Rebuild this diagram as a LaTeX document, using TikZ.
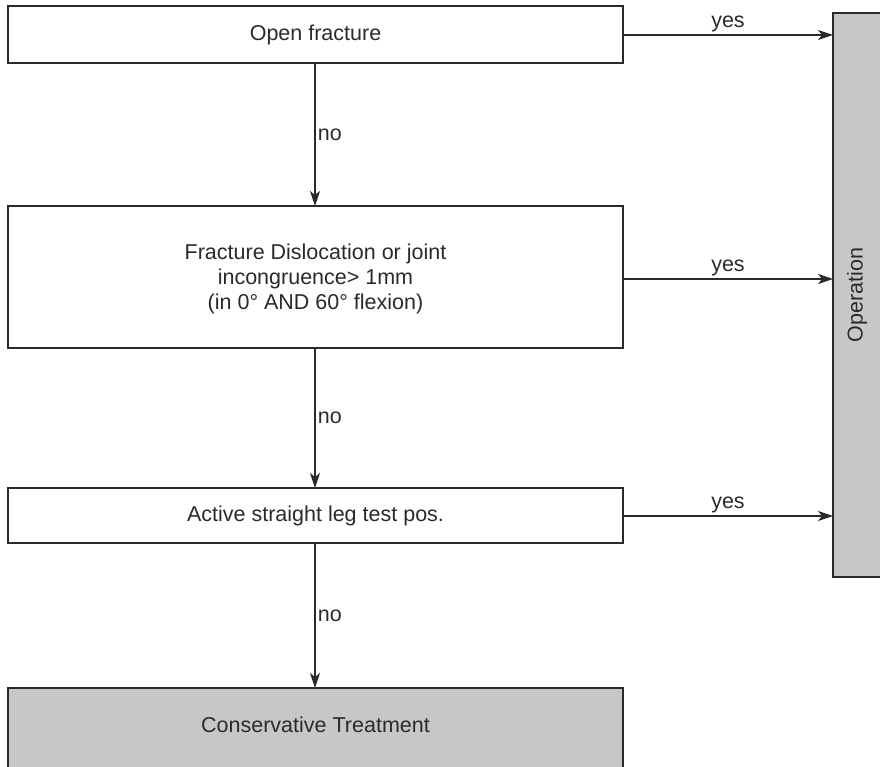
\documentclass[tikz,border=0pt]{standalone}
\usepackage{fontspec}
\setmainfont{Liberation Sans}
\usetikzlibrary{arrows.meta}
\definecolor{boxgray}{HTML}{C6C7C9}
\definecolor{ink}{HTML}{2A2A2A}
\begin{document}
\begin{tikzpicture}[x=1pt,y=-1pt,
  box/.style={draw=ink,line width=1.6pt,fill=white},
  graybox/.style={draw=ink,line width=1.6pt,fill=boxgray},
  txt/.style={font=\fontsize{21.5}{25}\selectfont,text=ink,align=center},
  conn/.style={draw=ink,line width=1.3pt,-{Stealth[length=15pt,width=10pt,inset=4pt]}},
  lab/.style={font=\fontsize{21.5}{25}\selectfont,text=ink}]
\useasboundingbox (0,0) rectangle (880,767);
\clip (0,0) rectangle (880,767);
% boxes
\draw[box] (8,6) rectangle (623,63);
\draw[box] (8,206) rectangle (623,348);
\draw[box] (8,488) rectangle (623,543);
\draw[graybox] (8,688) rectangle (623,790);
\draw[graybox] (833,13) rectangle (900,577);
% texts
\node[txt] (b1) at (315.5,34.5) {Open fracture};
\node[txt] (b2) at (315.5,279) {Fracture Dislocation or joint\\incongruence> 1mm\\(in 0° AND 60° flexion)};
\node[txt] (b3) at (315.5,515.5) {Active straight leg test pos.};
\node[txt] (b4) at (315.5,725) {Conservative Treatment};
\node[txt,rotate=90] (op) at (857,295) {Operation};
\coordinate (b1s) at (315,63);
\coordinate (b2n) at (315,206);
\coordinate (b2s) at (315,348);
\coordinate (b3n) at (315,488);
\coordinate (b3s) at (315,543);
\coordinate (b4n) at (315,688);
\coordinate (b1e) at (623,35);
\coordinate (op1) at (833,35);
\coordinate (b2e) at (623,279);
\coordinate (op2) at (833,279);
\coordinate (b3e) at (623,516);
\coordinate (op3) at (833,516);
% connectors
\draw[conn] (b1s) -- node[lab,right,xshift=-1pt] {no} (b2n);
\draw[conn] (b2s) -- node[lab,right,xshift=-1pt] {no} (b3n);
\draw[conn] (b3s) -- node[lab,right,xshift=-1pt] {no} (b4n);
\draw[conn] (b1e) -- node[lab,above,yshift=-1pt] {yes} (op1);
\draw[conn] (b2e) -- node[lab,above,yshift=-1pt] {yes} (op2);
\draw[conn] (b3e) -- node[lab,above,yshift=-1pt] {yes} (op3);
\end{tikzpicture}
\end{document}
